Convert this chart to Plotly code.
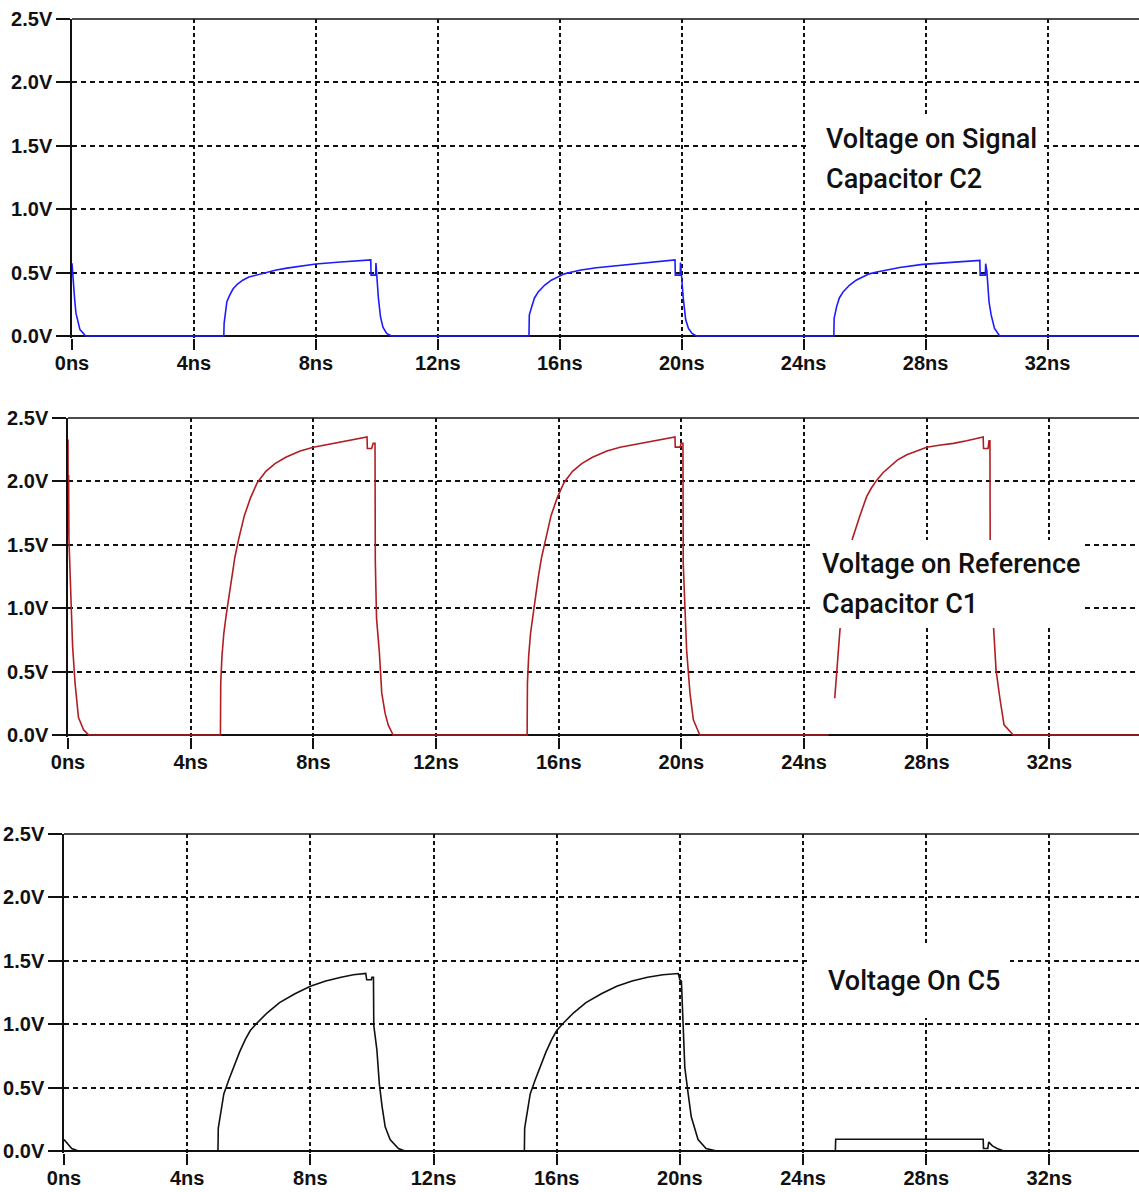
import plotly.graph_objects as go

W, H = 1139, 1192

# ---------------- data ----------------
C2_T = [0, 0.04, 0.09, 0.13, 0.2, 0.26, 0.45,
        4.98, 4.99, 5.03, 5.08, 5.17, 5.28, 5.43, 5.6, 5.8, 6.04, 6.35, 6.7, 7.05, 7.46, 8.0, 8.7,
        9.4, 9.8, 9.81, 9.96, 9.97, 9.99, 10.05, 10.12, 10.2, 10.32, 10.48,
        14.99, 15.0, 15.08, 15.17, 15.3, 15.5, 15.72, 15.95, 16.15, 16.4, 16.7, 17.2, 17.78, 18.3,
        18.88, 19.42, 19.78, 19.79, 19.95, 19.96, 19.98, 20.05, 20.13, 20.22, 20.34, 20.48,
        24.99, 25.0, 25.08, 25.17, 25.3, 25.5, 25.72, 25.95, 26.15, 26.4, 26.7, 27.15, 27.9, 28.7,
        29.5, 29.78, 29.79, 29.96, 29.97, 30.01, 30.08, 30.15, 30.26, 30.43, 35.0]
C2_V = [0.573, 0.42, 0.28, 0.18, 0.10, 0.05, 0,
        0, 0.10, 0.20, 0.27, 0.32, 0.37, 0.41, 0.44, 0.465, 0.48, 0.50, 0.52, 0.535, 0.55, 0.568, 0.582,
        0.593, 0.60, 0.48, 0.48, 0.575, 0.50, 0.30, 0.15, 0.07, 0.02, 0,
        0, 0.165, 0.23, 0.30, 0.35, 0.40, 0.44, 0.47, 0.49, 0.505, 0.52, 0.538, 0.552, 0.568,
        0.584, 0.597, 0.60, 0.48, 0.48, 0.58, 0.50, 0.30, 0.13, 0.06, 0.02, 0,
        0, 0.14, 0.23, 0.30, 0.35, 0.40, 0.44, 0.47, 0.49, 0.505, 0.52, 0.54, 0.565, 0.58,
        0.592, 0.596, 0.48, 0.48, 0.57, 0.51, 0.27, 0.166, 0.06, 0, 0]

C1_T = [0, 0.005, 0.02, 0.03, 0.09, 0.15, 0.23, 0.34, 0.51, 0.68,
        4.97, 4.98, 5.02, 5.08, 5.16, 5.24, 5.33, 5.44, 5.57, 5.75, 5.95, 6.17, 6.45, 6.75, 7.1, 7.57,
        8.0, 8.45, 8.9, 9.35, 9.75, 9.76, 9.9, 9.95, 10.01, 10.02, 10.06, 10.15, 10.23, 10.34, 10.44, 10.6,
        14.97, 14.98, 15.02, 15.08, 15.16, 15.24, 15.33, 15.44, 15.57, 15.75, 15.95, 16.17, 16.45, 16.75,
        17.1, 17.57, 18.0, 18.45, 18.9, 19.35, 19.79, 19.8, 19.96, 19.99, 20.05, 20.06, 20.17, 20.28,
        20.39, 20.6,
        24.8, None, 25.0, 25.06, 25.17, 25.35, 25.58, 25.82, 26.04, 26.2, 26.37, 26.58, 26.8, 27.05,
        27.35, 27.65, 28.0, 28.4, 28.87, 29.3, 29.74, 29.84, 29.85, 30.0, 30.03, 30.06, 30.07, 30.17,
        30.26, 30.39, 30.52, 30.82, 35.0]
C1_V = [2.33, 1.58, 2.05, 1.55, 1.13, 0.70, 0.41, 0.14, 0.04, 0,
        0, 0.41, 0.62, 0.80, 0.95, 1.07, 1.24, 1.40, 1.55, 1.73, 1.87, 1.99, 2.08, 2.14, 2.19, 2.24,
        2.27, 2.29, 2.31, 2.33, 2.35, 2.26, 2.26, 2.30, 2.30, 1.37, 0.92, 0.66, 0.33, 0.17, 0.08, 0,
        0, 0.41, 0.62, 0.80, 0.95, 1.07, 1.24, 1.40, 1.55, 1.73, 1.87, 1.99, 2.08, 2.14,
        2.19, 2.24, 2.27, 2.29, 2.31, 2.33, 2.35, 2.27, 2.27, 2.30, 2.30, 1.35, 0.67, 0.33,
        0.12, 0,
        0, None, 0.29, 0.51, 0.83, 1.25, 1.55, 1.73, 1.88, 1.95, 2.01, 2.07, 2.12, 2.17,
        2.21, 2.24, 2.27, 2.285, 2.30, 2.32, 2.34, 2.35, 2.26, 2.26, 2.32, 2.32, 1.30, 0.84,
        0.51, 0.28, 0.08, 0, 0]

C5_T = [0, 0.1, 0.25, 0.47,
        5.0, 5.01, 5.08, 5.19, 5.35, 5.51, 5.7, 5.89, 6.05, 6.27, 6.6, 7.0, 7.5, 8.0, 8.5, 9.0, 9.4,
        9.8, 9.83, 9.98, 10.0, 10.05, 10.06, 10.16, 10.24, 10.33, 10.43, 10.59, 10.86, 11.07,
        14.95, 14.96, 15.03, 15.14, 15.3, 15.46, 15.65, 15.84, 16.0, 16.22, 16.55, 16.95, 17.45, 17.95,
        18.45, 18.95, 19.45, 19.95, 20.0, 20.05, 20.1, 20.16, 20.27, 20.37, 20.59, 20.85, 21.2,
        25.05, 25.06, 29.85, 29.86, 30.0, 30.03, 30.15, 30.3, 30.52, 35.0]
C5_V = [0.09, 0.06, 0.02, 0,
        0, 0.18, 0.30, 0.45, 0.56, 0.66, 0.78, 0.88, 0.95, 1.01, 1.09, 1.17, 1.24, 1.30, 1.34, 1.37, 1.39,
        1.40, 1.35, 1.35, 1.37, 1.37, 0.99, 0.80, 0.53, 0.35, 0.19, 0.09, 0.02, 0,
        0, 0.18, 0.30, 0.45, 0.56, 0.66, 0.78, 0.88, 0.95, 1.01, 1.09, 1.17, 1.24, 1.30,
        1.34, 1.37, 1.39, 1.40, 1.35, 1.34, 0.98, 0.66, 0.45, 0.27, 0.09, 0.02, 0,
        0, 0.093, 0.093, 0.02, 0.02, 0.07, 0.04, 0.02, 0, 0]

Y_TICKS = [0, 0.5, 1.0, 1.5, 2.0, 2.5]
Y_LABELS = ["0.0V", "0.5V", "1.0V", "1.5V", "2.0V", "2.5V"]
X_TICKS = [0, 4, 8, 12, 16, 20, 24, 28, 32]
X_LABELS = ["0ns", "4ns", "8ns", "12ns", "16ns", "20ns", "24ns", "28ns", "32ns"]

SERIES = [
    ("Voltage on Signal Capacitor C2", C2_T, C2_V, "#1c1cff"),
    ("Voltage on Reference Capacitor C1", C1_T, C1_V, "#b01e23"),
    ("Voltage On C5", C5_T, C5_V, "#111111"),
]
LABEL_LINES = [["Voltage on Signal", "Capacitor C2"],
               ["Voltage on Reference", "Capacitor C1"],
               ["Voltage On C5"]]

# ---------------- layout geometry (pixels) ----------------
LEFT = [72, 68, 64]
TOP = [19, 418, 834]
ZERO = [336, 735, 1151]
XMAX = [35.0, 34.92, 34.91]
PAD_PX = 1.5
# white label boxes (x0, y0, x1, y1), text left x, and y-centre of each text line
BOXES = [(810, 115, 1042, 200), (810, 540, 1082, 628), (808, 943, 1010, 1018)]
TEXT_X = [824, 820, 826]
TEXT_Y = [[139, 179], [564, 604], [981]]


def px(x):
    return x / W


def py(y):
    return 1 - y / H


fig = go.Figure()
TICK_FONT = dict(family="Liberation Sans, Arial, sans-serif", size=20, color="#111111",
                 weight="bold")
LABEL_FONT = dict(family="Roboto, Liberation Sans, sans-serif", size=27, color="#111111",
                  weight=500)

layout = dict(width=W, height=H, margin=dict(l=0, r=0, t=0, b=0, autoexpand=False),
              paper_bgcolor="white", plot_bgcolor="white", showlegend=False)
shapes = []
annotations = []

for i, (name, t, v, col) in enumerate(SERIES):
    n = "" if i == 0 else str(i + 1)
    fig.add_trace(go.Scatter(x=t, y=v, mode="lines", name=name,
                             line=dict(color=col, width=1.6),
                             xaxis="x" + n, yaxis="y" + n, connectgaps=False))
    span = ZERO[i] - TOP[i]
    pad = PAD_PX / span * 2.5
    layout["xaxis" + n] = dict(
        domain=[px(LEFT[i]), 1], range=[0, XMAX[i]], anchor="y" + n, automargin=False,
        tickvals=X_TICKS, ticktext=X_LABELS, tickfont=TICK_FONT,
        ticks="outside", ticklen=11, tickwidth=1.5, tickcolor="#111111",
        ticklabelstandoff=-4,
        showline=False, zeroline=False,
        showgrid=True, gridcolor="#111111", gridwidth=1.5, griddash="4px,3px",
        fixedrange=True, layer="below traces")
    layout["yaxis" + n] = dict(
        domain=[py(ZERO[i] + PAD_PX), py(TOP[i])], range=[-pad, 2.5], anchor="x" + n,
        automargin=False,
        tickvals=Y_TICKS, ticktext=Y_LABELS, tickfont=TICK_FONT,
        ticks="outside", ticklen=14, tickwidth=1.5, tickcolor="#111111",
        ticklabelstandoff=0,
        showline=True, linecolor="#111111", linewidth=1.5,
        zeroline=True, zerolinecolor="#111111", zerolinewidth=1.8,
        showgrid=True, gridcolor="#111111", gridwidth=1.5, griddash="5px,4px",
        fixedrange=True, layer="below traces")
    # solid top frame line at 2.5 V
    shapes.append(dict(type="line", xref="paper", yref="paper",
                       x0=px(LEFT[i]), x1=1, y0=py(TOP[i]), y1=py(TOP[i]),
                       line=dict(color="#111111", width=1.5), layer="below"))
    bx0, by0, bx1, by1 = BOXES[i]
    shapes.append(dict(type="rect", xref="paper", yref="paper",
                       x0=px(bx0), x1=px(bx1), y0=py(by1), y1=py(by0),
                       fillcolor="white", line=dict(width=0), layer="above"))
    for line_text, ly in zip(LABEL_LINES[i], TEXT_Y[i]):
        annotations.append(dict(text=line_text, xref="paper", yref="paper",
                                x=px(TEXT_X[i]), y=py(ly), xanchor="left", yanchor="middle",
                                align="left", showarrow=False, font=LABEL_FONT))

layout["shapes"] = shapes
layout["annotations"] = annotations
fig.update_layout(**layout)
fig.write_html("out.html")
